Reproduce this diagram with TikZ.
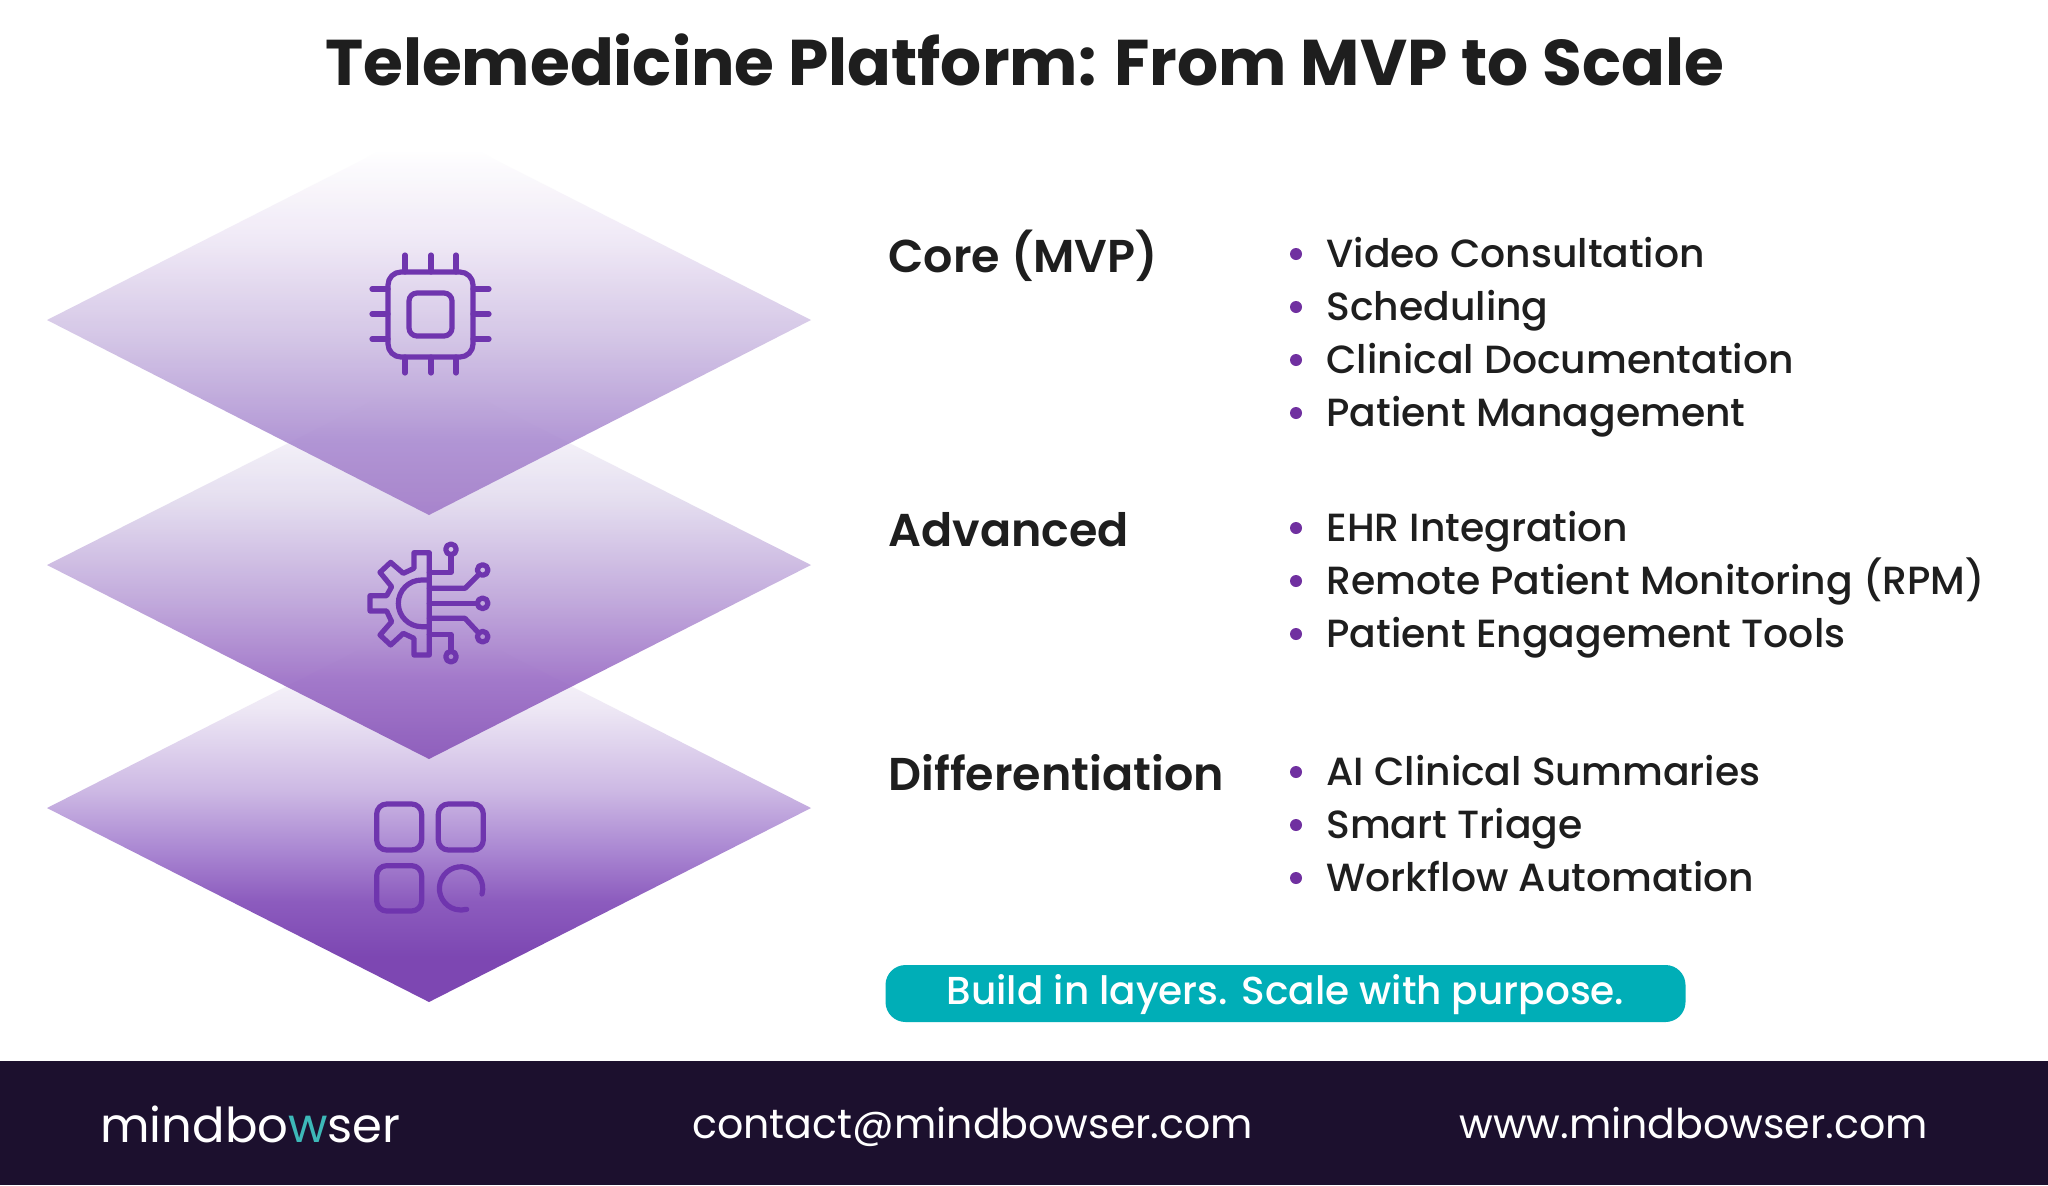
\documentclass[tikz,border=0pt]{standalone}
\usepackage{fontspec}
\setmainfont{Poppins}
\newfontfamily\popmed{Poppins Medium}
\newfontfamily\popsemi{Poppins SemiBold}
\definecolor{darktext}{HTML}{1E1E1E}
\definecolor{iconpurple}{HTML}{6F35AE}
\definecolor{bulletpurple}{HTML}{7030A0}
\definecolor{pilltone}{HTML}{00AEB7}
\definecolor{footerdark}{HTML}{1C102E}
\definecolor{logoteal}{HTML}{3DB8B8}
\pgfdeclareverticalshading{lowramp}{100bp}{rgb(0bp)=(.49,.28,.70); rgb(31bp)=(.49,.28,.70); rgb(38bp)=(.55,.36,.745); rgb(44.6bp)=(.667,.53,.824); rgb(52.3bp)=(.804,.725,.894); rgb(63bp)=(.933,.91,.96); rgb(72bp)=(1,1,1); rgb(100bp)=(1,1,1)}
\pgfdeclareverticalshading{centreramp}{100bp}{rgb(0bp)=(.51,.30,.706); rgb(25bp)=(.51,.30,.706); rgb(35.2bp)=(.58,.39,.76); rgb(45.5bp)=(.72,.61,.84); rgb(58.5bp)=(.88,.85,.93); rgb(72bp)=(1,1,1); rgb(100bp)=(1,1,1)}
\pgfdeclareverticalshading{upramp}{100bp}{rgb(0bp)=(.62,.46,.78); rgb(25bp)=(.62,.46,.78); rgb(34.6bp)=(.65,.525,.81); rgb(47.5bp)=(.80,.735,.885); rgb(60.3bp)=(.93,.90,.96); rgb(72bp)=(1,1,1); rgb(100bp)=(1,1,1)}
\tikzset{
  heading/.style={anchor=base west, inner sep=0pt, text=darktext, font=\popsemi\fontsize{23}{28}\selectfont},
  itemtext/.style={anchor=base west, inner sep=0pt, text=darktext, font=\popmed\fontsize{19.65}{24}\selectfont},
  dotmark/.style={circle, fill=bulletpurple, inner sep=0pt, minimum size=6pt},
  footertext/.style={anchor=base west, inner sep=0pt, text=white, font=\fontsize{20.55}{25}\selectfont},
  iconline/.style={draw=iconpurple, line width=2.6pt, line cap=round, line join=round},
  layer/.style={fill opacity=0.85},
}
\begin{document}
\begin{tikzpicture}[x=0.5pt,y=-0.5pt]
	\useasboundingbox (0,0) rectangle (2048,1185);
	\fill[white] (0,0) rectangle (2048,1185);
	\node (title) [anchor=base, inner sep=0pt, text=darktext, font=\bfseries\fontsize{32.3}{40}\selectfont] at (1024.5,85) {Telemedicine Platform: From MVP to Scale};

	% Layers
	\shade[shading=lowramp] (47,808) -- (429,614) -- (811,808) -- (429,1002) -- cycle;
	\shade[layer, shading=centreramp] (47,565) -- (429,372) -- (811,565) -- (429,759) -- cycle;
	\shade[layer, shading=upramp] (47,320) -- (429,126) -- (811,320) -- (429,515) -- cycle;

	% Chip icon
	\draw[iconline, rounded corners=6.5pt] (388,272) rectangle (473,357);
	\draw[iconline, rounded corners=4pt] (409,293) rectangle (452,336);
	\foreach \px in {405,431,456} {
		\draw[iconline] (\px,255) -- (\px,272);
		\draw[iconline] (\px,357) -- (\px,373);
	}
	\foreach \py in {289,314,339} {
		\draw[iconline] (372,\py) -- (388,\py);
		\draw[iconline] (473,\py) -- (489,\py);
	}

	% Gear icon
	\begin{scope}[shift={(340,530)},scale=0.3333]
		\draw[iconline] (268,68) -- (222,68) -- (222,115) -- (190,130) -- (152,97) -- (120,127) -- (155,170) -- (140,197) -- (90,197) -- (90,243) -- (140,243) -- (155,275) -- (120,315) -- (152,345) -- (190,310) -- (222,325) -- (222,375) -- (268,375) -- cycle;
		\draw[iconline] (268,150) -- (245,150) arc[start angle=-90, end angle=-270, radius=70] -- (268,290);
		\draw[iconline] (268,127) -- (333,127) -- (333,75);
		\draw[iconline] (268,175) -- (375,175) -- (415,135);
		\draw[iconline] (268,220) -- (410,220);
		\draw[iconline] (268,265) -- (375,265) -- (415,308);
		\draw[iconline] (268,313) -- (333,313) -- (333,362);
		\draw[iconline] (333,58) circle[radius=16];
		\draw[iconline] (428,120) circle[radius=16];
		\draw[iconline] (428,220) circle[radius=16];
		\draw[iconline] (428,320) circle[radius=16];
		\draw[iconline] (333,380) circle[radius=16];
	\end{scope}

	% Apps icon
	\begin{scope}[shift={(350,780)},scale=0.3333]
		\draw[iconline, rounded corners=5pt] (80,72) rectangle (215,210);
		\draw[iconline, rounded corners=5pt] (265,72) rectangle (400,210);
		\draw[iconline, rounded corners=5pt] (80,257) rectangle (215,393);
		\draw[iconline] (396,342) arc[start angle=15, end angle=-285, radius=65];
	\end{scope}

	% Headings
	\node (core) [heading] at (888,272) {Core (MVP)};
	\node (advanced) [heading] at (888,546) {Advanced};
	\node (diff) [heading] at (888,790.5) {Differentiation};

	% Items
	\foreach \iname/\iy/\itxt in {a/267/Video Consultation, b/320/Scheduling, c/373/Clinical Documentation, d/426/Patient Management, e/541/EHR Integration, f/594/Remote Patient Monitoring (RPM), g/647/Patient Engagement Tools, h/785/AI Clinical Summaries, i/838/Smart Triage, j/891/Workflow Automation} {
		\node (dot\iname) [dotmark] at (1296,\iy-13) {};
		\node (item\iname) [itemtext] at (1326,\iy) {\itxt};
	}

	% Tagline
	\node (tagline) [fill=pilltone, rounded corners=10pt, minimum width=400pt, minimum height=28.5pt, inner sep=0pt, text height=14pt, text depth=3pt, text=white, font=\popmed\fontsize{19.5}{24}\selectfont] at (1285.5,993.5) {Build in layers. Scale with purpose.};

	% Footer
	\fill[footerdark] (0,1061) rectangle (2048,1185);
	\node (logo) [anchor=base west, inner sep=0pt, text=white, font=\fontsize{24.05}{30}\selectfont] at (100,1142) {mindbo\textcolor{logoteal}{w}ser};
	\node (contact) [footertext] at (692,1138) {contact@mindbowser.com};
	\node (website) [footertext] at (1459,1138) {www.mindbowser.com};
\end{tikzpicture}
\end{document}
